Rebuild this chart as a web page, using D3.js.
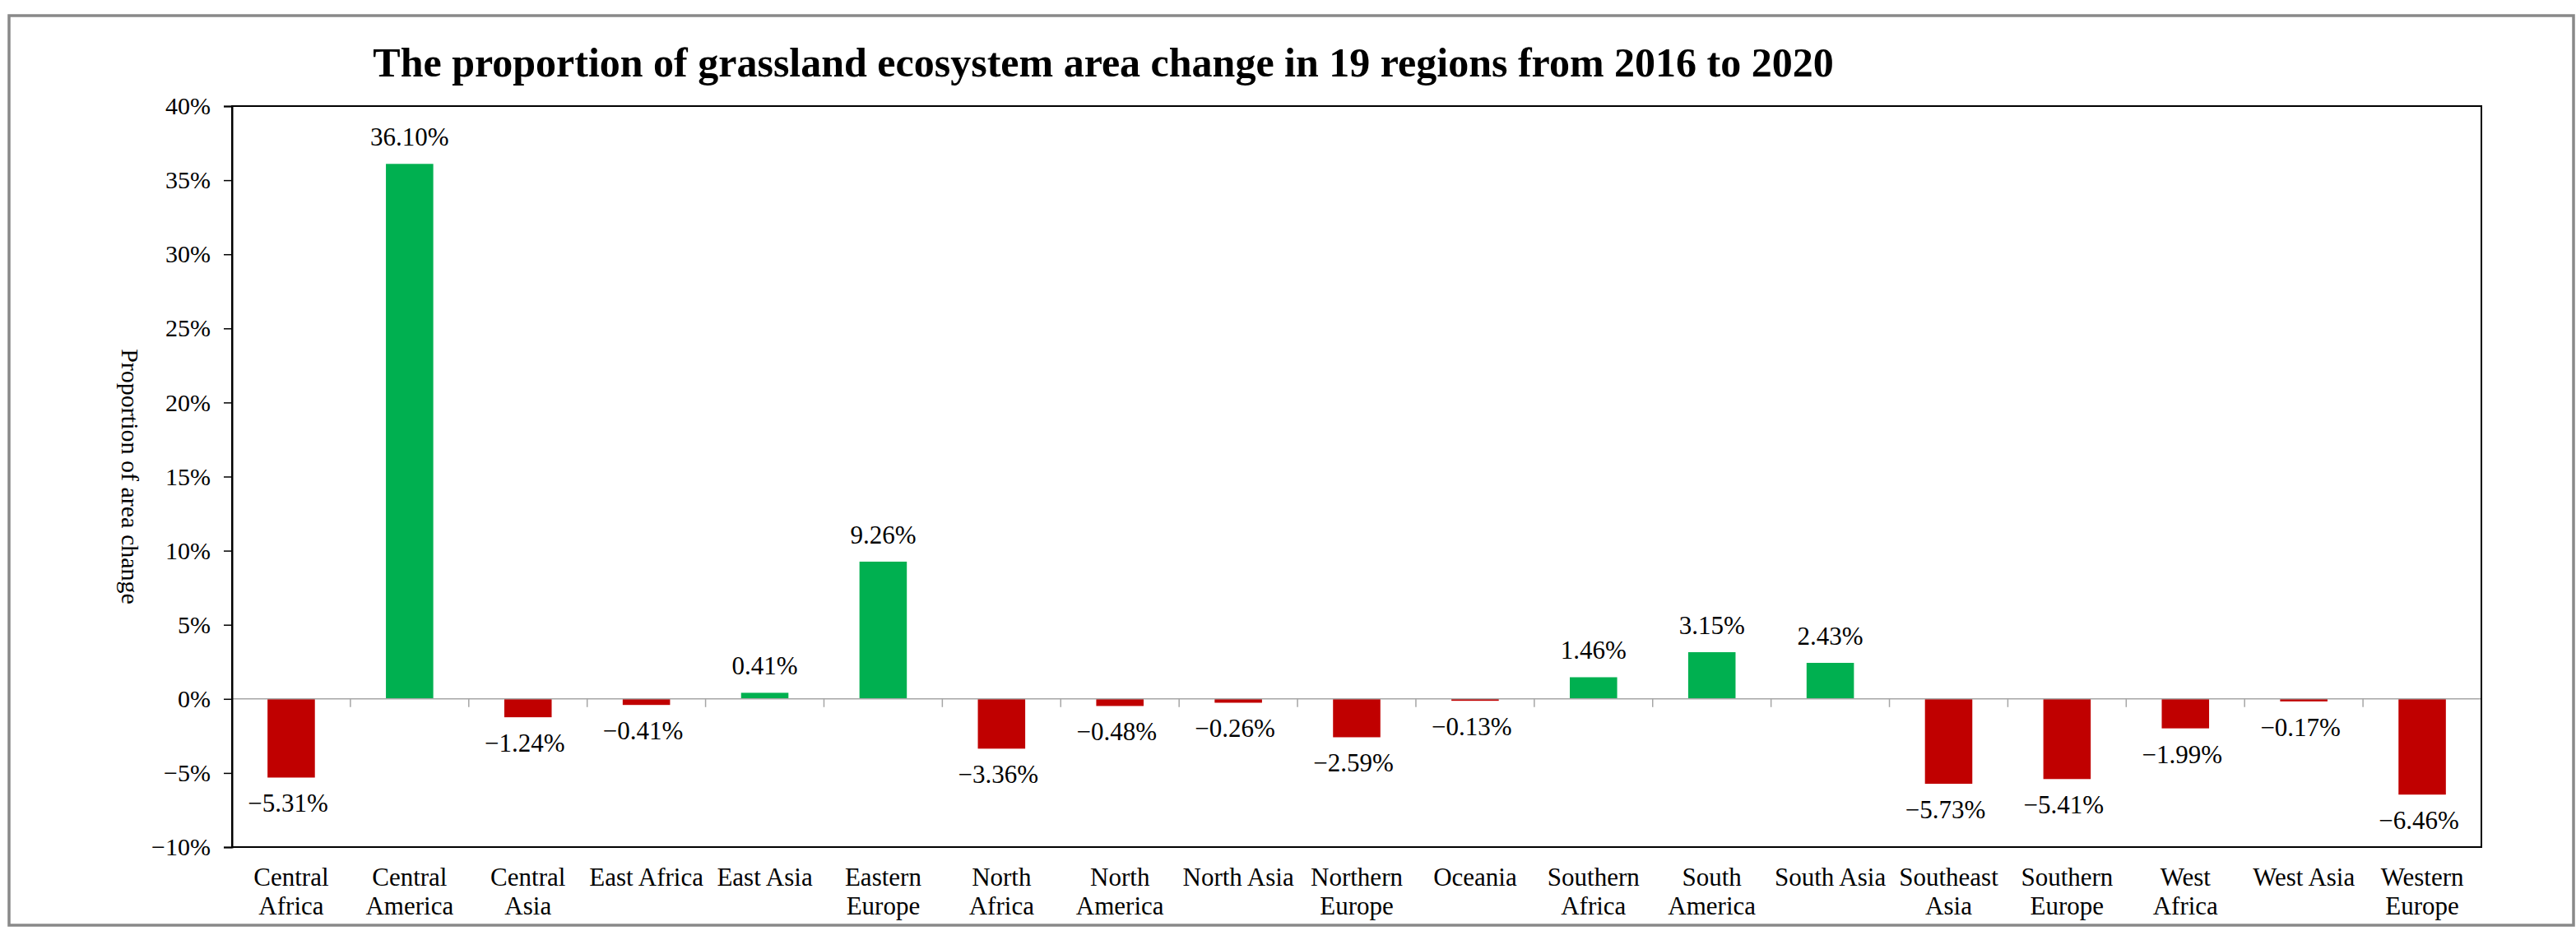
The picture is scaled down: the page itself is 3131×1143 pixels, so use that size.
<!DOCTYPE html>
<html>
<head>
<meta charset="utf-8">
<script src="https://cdn.jsdelivr.net/npm/d3@7/dist/d3.min.js"></script>
<style>
  html, body { margin: 0; padding: 0; background: #fff; }
  svg { display: block; }
  text { font-family: "Liberation Serif", "Times New Roman", serif; fill: #000; }
</style>
</head>
<body>
<svg id="chart" width="3131" height="1143"></svg>
<script>
const categories = ["Central\nAfrica", "Central\nAmerica", "Central\nAsia", "East Africa", "East Asia",
  "Eastern\nEurope", "North\nAfrica", "North\nAmerica", "North Asia", "Northern\nEurope", "Oceania",
  "Southern\nAfrica", "South\nAmerica", "South Asia", "Southeast\nAsia", "Southern\nEurope",
  "West\nAfrica", "West Asia", "Western\nEurope"];
const values = [-5.31, 36.10, -1.24, -0.41, 0.41, 9.26, -3.36, -0.48, -0.26, -2.59, -0.13,
  1.46, 3.15, 2.43, -5.73, -5.41, -1.99, -0.17, -6.46];
const yTicks = [-10, -5, 0, 5, 10, 15, 20, 25, 30, 35, 40];
const titleText = "The proportion of grassland ecosystem area change in 19 regions from 2016 to 2020";
const yTitle = "Proportion of area change";

const svg = d3.select("#chart");
const plot = { left: 282, top: 129, right: 3016, bottom: 1030 };

// outer frame
svg.append("rect").attr("x", 11).attr("y", 19).attr("width", 3117).attr("height", 1106)
  .attr("fill", "#fff").attr("stroke", "#898989").attr("stroke-width", 3.5);

const x = d3.scaleBand().domain(categories).range([plot.left, plot.right])
  .paddingInner(0.6).paddingOuter(0.3);
const y = d3.scaleLinear().domain([-10, 40]).range([plot.bottom, plot.top]);

const data = categories.map((c, i) => ({ c, v: values[i] }));

// title
svg.append("text").attr("x", 1341).attr("y", 93).attr("text-anchor", "middle")
  .attr("font-size", 50).attr("font-weight", "bold").text(titleText);

// y axis title
svg.append("text").attr("transform", `translate(148,${(plot.top + plot.bottom) / 2}) rotate(90)`)
  .attr("text-anchor", "middle").attr("font-size", 30).text(yTitle);

// bars
svg.append("g").selectAll("rect").data(data).join("rect")
  .attr("x", d => x(d.c))
  .attr("width", x.bandwidth())
  .attr("y", d => y(Math.max(0, d.v)))
  .attr("height", d => Math.abs(y(d.v) - y(0)))
  .attr("fill", d => d.v >= 0 ? "#00B050" : "#C00000");

// zero line
svg.append("line").attr("x1", plot.left).attr("x2", plot.right)
  .attr("y1", y(0)).attr("y2", y(0)).attr("stroke", "#a6a6a6").attr("stroke-width", 1.5);

// category boundary ticks
const half = x.step() * x.paddingInner() / 2;
svg.append("g").selectAll("line").data(categories.slice(1)).join("line")
  .attr("x1", d => x(d) - half).attr("x2", d => x(d) - half)
  .attr("y1", y(0)).attr("y2", y(0) + 10)
  .attr("stroke", "#a6a6a6").attr("stroke-width", 1.5);

// plot frame
svg.append("rect").attr("x", plot.left).attr("y", plot.top)
  .attr("width", plot.right - plot.left).attr("height", plot.bottom - plot.top)
  .attr("fill", "none").attr("stroke", "#000").attr("stroke-width", 2);

// y axis
const yAxis = d3.axisLeft(y).tickValues(yTicks).tickSize(10).tickPadding(16)
  .tickFormat(d => d3.format("d")(d) + "%");
const ga = svg.append("g").attr("transform", `translate(${plot.left},0)`).call(yAxis);
ga.select(".domain").attr("stroke", "#000").attr("stroke-width", 2);
ga.selectAll(".tick line").attr("stroke", "#000").attr("stroke-width", 1.5);
ga.selectAll(".tick text").attr("font-size", 30)
  .attr("font-family", "'Liberation Serif','Times New Roman',serif").attr("fill", "#000");

// value labels
const fmt = v => (v < 0 ? "\u2212" : "") + Math.abs(v).toFixed(2) + "%";
svg.append("g").selectAll("text").data(data).join("text")
  .attr("x", d => x(d.c) + x.bandwidth() / 2 + (d.v < 0 ? -4 : 0))
  .attr("y", d => d.v >= 0 ? y(d.v) - 22 : y(d.v) + 42)
  .attr("text-anchor", "middle").attr("font-size", 31)
  .text(d => fmt(d.v));

// category labels
const cl = svg.append("g").selectAll("text").data(categories).join("text")
  .attr("text-anchor", "middle").attr("font-size", 31)
  .attr("transform", d => `translate(${x(d) + x.bandwidth() / 2},${plot.bottom + 47})`);
cl.selectAll("tspan").data(d => d.split("\n")).join("tspan")
  .attr("x", 0).attr("y", (d, i) => i * 35).text(d => d);
</script>
</body>
</html>
